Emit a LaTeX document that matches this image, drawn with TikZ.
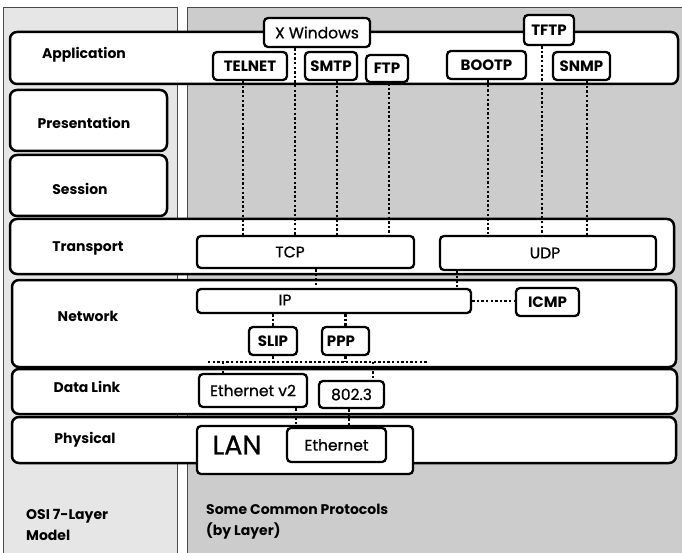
\documentclass[tikz,border=0pt]{standalone}
\usepackage{fontspec}
\setmainfont{Poppins}
\newfontfamily\medfont[FakeBold=0.8]{Poppins}
\definecolor{panelL}{HTML}{E6E6E6}
\definecolor{panelR}{HTML}{CCCCCC}
\definecolor{panelEdge}{HTML}{4A4A4A}
\tikzset{
  wh/.style 2 args={minimum width=#1pt, minimum height=#2pt},
  panel/.style={draw=panelEdge, line width=0.9pt},
  layer/.style={draw=black, fill=white, line width=2.5pt, rounded corners=7pt, inner sep=0pt},
  pbox/.style={draw=black, fill=white, line width=2.3pt, rounded corners=4pt, inner sep=0pt},
  lbl/.style={font=\bfseries\fontsize{14}{16}\selectfont, inner sep=0pt},
  btxt/.style={font=\bfseries\fontsize{15}{17}\selectfont, inner sep=0pt},
  rtxt/.style={font=\medfont\fontsize{15.5}{17}\selectfont, inner sep=0pt},
  big/.style={font=\medfont\fontsize{27}{30}\selectfont, inner sep=0pt},
  foot/.style={font=\bfseries\fontsize{14}{21}\selectfont, align=left, anchor=west, inner sep=0pt},
  conn/.style={draw=black, line width=2.4pt, dash pattern=on 2.4pt off 2.2pt},
}
\begin{document}
\begin{tikzpicture}[x=1pt, y=-1pt]
\useasboundingbox (0,0) rectangle (682,553);
% background panels
\fill[white] (0,0) rectangle (682,553);
\node[panel, fill=panelL, wh={174}{552}, inner sep=0pt, anchor=north west] (osipanel) at (3,7) {};
\node[panel, fill=panelR, wh={500}{552}, inner sep=0pt, anchor=north west] (protopanel) at (187,7) {};

% OSI layer bands
\node[layer, wh={668}{52}] (app)   at (344,58) {};
\node[layer, wh={157}{61}] (pres)  at (88.5,120.5) {};
\node[layer, wh={157}{61}] (sess)  at (88.5,185.5) {};
\node[layer, wh={664}{55}] (trans) at (342,246.5) {};
\node[layer, wh={664}{87}] (net)   at (344,323.5) {};
\node[layer, wh={665}{45}] (dlink) at (344.5,391.5) {};
\node[layer, wh={664}{46}] (phys)  at (344,440) {};

\node[lbl] (appL)   at (84,55)  {Application};
\node[lbl] (presL)  at (84,123) {Presentation};
\node[lbl] (sessL)  at (80,189) {Session};
\node[lbl] (transL) at (88,248) {Transport};
\node[lbl] (netL)   at (88,316) {Network};
\node[lbl] (dlinkL) at (87,387) {Data Link};
\node[lbl] (physL)  at (85,440) {Physical};

% protocol boxes
\node[pbox, wh={106}{29}] (xwin)   at (317,32.5) {};
\node[pbox, wh={74}{28}]  (telnet) at (250,66) {};
\node[pbox, wh={52}{28}]  (smtp)   at (331,66) {};
\node[pbox, wh={42}{27}]  (ftp)    at (387,68.5) {};
\node[pbox, wh={79}{28}]  (bootp)  at (486.5,65) {};
\node[pbox, wh={50}{30}]  (tftp)   at (549,30) {};
\node[pbox, wh={57}{28}]  (snmp)   at (581.5,66) {};
\node[pbox, wh={217}{32}] (tcp)    at (305.5,252) {};
\node[pbox, wh={216}{34}] (udp)    at (548,253) {};
\node[pbox, wh={274}{24}] (ip)     at (334,301) {};
\node[pbox, wh={63}{28}]  (icmp)   at (547.5,302) {};
\node[pbox, wh={48}{28}]  (slip)   at (273,341) {};
\node[pbox, wh={47}{28}]  (ppp)    at (345.5,341) {};
\node[pbox, wh={108}{33}] (ethv2)  at (253,390.5) {};
\node[pbox, wh={65}{27}]  (ieee)   at (351.5,394.5) {};
\node[pbox, wh={216}{48}] (lan)    at (305,450) {};
\node[pbox, wh={99}{34}]  (ether)  at (336.5,445) {};

% connectors between protocols
\coordinate (busL) at (208,362);
\coordinate (busR) at (428,362);
\draw[conn] ([xshift=-7]telnet.south) -- ([xshift=-7]telnet.south |- tcp.north);
\draw[conn] ([xshift=-22]xwin.south) -- ([xshift=-22]xwin.south |- tcp.north);
\draw[conn] ([xshift=6]smtp.south) -- ([xshift=6]smtp.south |- tcp.north);
\draw[conn] ([xshift=2]ftp.south) -- ([xshift=2]ftp.south |- tcp.north);
\draw[conn] ([xshift=1.5]bootp.south) -- ([xshift=1.5]bootp.south |- udp.north);
\draw[conn] ([xshift=-7]tftp.south) -- ([xshift=-7]tftp.south |- udp.north);
\draw[conn] ([xshift=5.5]snmp.south) -- ([xshift=5.5]snmp.south |- udp.north);
\draw[conn] ([xshift=10.5]tcp.south) -- ([xshift=10.5]tcp.south |- ip.north);
\draw[conn] ([xshift=18]udp.south west) -- ([xshift=18]udp.south west |- ip.north);
\draw[conn] (ip.east) -- (icmp.west |- ip.east);
\draw[conn] (ip.south -| slip.north) -- (slip.north);
\draw[conn] (ip.south -| ppp.north) -- (ppp.north);
\draw[conn] (busL) -- (busR);
\draw[conn] (slip.south) -- (slip.south |- busL);
\draw[conn] (ppp.south) -- (ppp.south |- busL);
\draw[conn] ([xshift=-30]ethv2.north |- busL) -- ([xshift=-30]ethv2.north);
\draw[conn] ([xshift=21.5]ieee.north |- busL) -- ([xshift=21.5]ieee.north);
\draw[conn] ([xshift=43]ethv2.south) -- ([xshift=43]ethv2.south |- ether.north);
\draw[conn] ([xshift=-2.5]ieee.south) -- ([xshift=-2.5]ieee.south |- ether.north);

% protocol box texts
\node[rtxt]  at (xwin)   {X Windows};
\node[btxt]  at (telnet) {TELNET};
\node[btxt]  at (smtp)   {SMTP};
\node[btxt]  at (ftp)    {FTP};
\node[btxt]  at (bootp)  {BOOTP};
\node[btxt]  at (tftp)   {TFTP};
\node[btxt]  at (snmp)   {SNMP};
\node[rtxt]  at (290,252) {TCP};
\node[rtxt]  at (545,253) {UDP};
\node[rtxt]  at (285,300) {IP};
\node[btxt]  at (icmp)   {ICMP};
\node[btxt]  at (slip)   {SLIP};
\node[btxt]  at (341,341) {PPP};
\node[rtxt]  at (ethv2)  {Ethernet v2};
\node[rtxt]  at (ieee)   {802.3};
\node[rtxt]  at (ether)  {Ethernet};
\node[big]   (lanL) at (237,445) {LAN};

% panel captions
\node[foot] (osiT)   at (26,525)  {OSI 7-Layer\\Model};
\node[foot] (protoT) at (206,522) {Some Common Protocols\\(by Layer)};
\end{tikzpicture}
\end{document}
